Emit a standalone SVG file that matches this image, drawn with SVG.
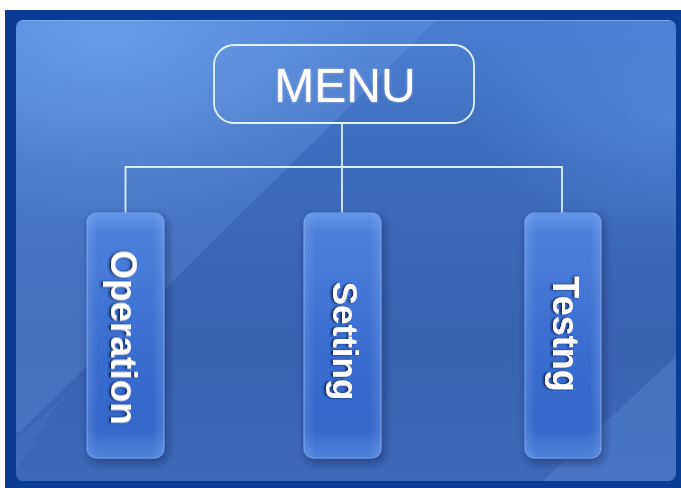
<svg xmlns="http://www.w3.org/2000/svg" width="681" height="488" viewBox="0 0 681 488">
<defs>
<linearGradient id="panelG" x1="0" y1="0" x2="0" y2="1">
<stop offset="0" stop-color="#4a7dd0"/>
<stop offset="0.3" stop-color="#3e6bbb"/>
<stop offset="0.7" stop-color="#3962ae"/>
<stop offset="1" stop-color="#3e68b6"/>
</linearGradient>
<radialGradient id="glowTL" cx="0.14" cy="0.04" r="0.4">
<stop offset="0" stop-color="#7fb0f5" stop-opacity="0.5"/>
<stop offset="1" stop-color="#7fb0f5" stop-opacity="0"/>
</radialGradient>
<radialGradient id="glowTR" cx="0.99" cy="0.2" r="0.3">
<stop offset="0" stop-color="#6c9ef0" stop-opacity="0.4"/>
<stop offset="1" stop-color="#6c9ef0" stop-opacity="0"/>
</radialGradient>
<linearGradient id="nodeG" x1="0" y1="0" x2="0" y2="1">
<stop offset="0" stop-color="#6294e6"/>
<stop offset="0.08" stop-color="#4d80dc"/>
<stop offset="0.5" stop-color="#3b6fd2"/>
<stop offset="0.88" stop-color="#3467cb"/>
<stop offset="1" stop-color="#4f84dc"/>
</linearGradient>
<linearGradient id="nodeH" x1="0" y1="0" x2="1" y2="0">
<stop offset="0" stop-color="#ffffff" stop-opacity="0.12"/>
<stop offset="0.15" stop-color="#ffffff" stop-opacity="0"/>
<stop offset="0.85" stop-color="#ffffff" stop-opacity="0"/>
<stop offset="1" stop-color="#ffffff" stop-opacity="0.12"/>
</linearGradient>
<filter id="boxShadow" x="-30%" y="-10%" width="160%" height="125%">
<feDropShadow dx="2" dy="4" stdDeviation="4" flood-color="#0c2457" flood-opacity="0.55"/>
</filter>
<filter id="txtShadow" x="-10%" y="-30%" width="120%" height="170%">
<feDropShadow dx="0" dy="2" stdDeviation="0.8" flood-color="#0a1f4f" flood-opacity="0.9"/>
</filter>
<filter id="menuGlow" x="-10%" y="-30%" width="120%" height="160%">
<feDropShadow dx="0" dy="0" stdDeviation="1.2" flood-color="#ffffff" flood-opacity="0.5"/>
</filter>
</defs>
<style>
.conn{fill:none;stroke:#d9efff;stroke-width:1.8}
.node{fill:url(#nodeG);stroke:#6f9be8;stroke-width:1;filter:url(#boxShadow)}
.nodeHi{fill:url(#nodeH);stroke:none}
.lbl{font-family:"Liberation Sans",Arial,sans-serif;font-weight:bold;fill:#ffffff;text-anchor:middle;filter:url(#txtShadow)}
.menuTxt{font-family:"Liberation Sans",Arial,sans-serif;font-size:48px;fill:#ffffff;text-anchor:middle;filter:url(#menuGlow)}
</style>

<!-- background -->
<rect x="0" y="0" width="681" height="488" fill="#ffffff"/>
<rect x="5" y="10" width="676" height="478" fill="#0b3b93"/>
<rect x="16" y="20" width="660" height="461" rx="7" fill="url(#panelG)"/>
<rect x="16" y="20" width="660" height="461" rx="7" fill="url(#glowTL)"/>
<rect x="16" y="20" width="660" height="461" rx="7" fill="url(#glowTR)"/>
<polygon points="23,20 437,20 20,432 16,432 16,27" fill="#8ab8ff" opacity="0.17"/>
<polygon points="676,356 676,474 669,481 543,481" fill="#8ab8ff" opacity="0.17"/>
<polygon points="16,440 60,400 16,470" fill="#8ab8ff" opacity="0.08"/>
<line x1="22" y1="20.5" x2="670" y2="20.5" stroke="#8db8f3" stroke-width="1" opacity="0.7"/>

<!-- connectors -->
<g id="connectors">
<line class="conn" x1="342" y1="123" x2="342" y2="213"/>
<polyline class="conn" points="125.5,213 125.5,167 562,167 562,213"/>
</g>

<!-- MENU -->
<g id="menu">
<rect x="214" y="45" width="260" height="78" rx="20" fill="#ffffff" fill-opacity="0.02" stroke="#e4f3ff" stroke-width="1.8"/>
<text class="menuTxt" x="345" y="102">MENU</text>
</g>

<!-- nodes -->
<g id="operation">
<rect class="node" x="87" y="213" width="77" height="245" rx="9"/>
<rect class="nodeHi" x="87" y="213" width="77" height="245" rx="9"/>
<text class="lbl" font-size="37" transform="translate(111,337.5) rotate(90)">Operation</text>
</g>
<g id="setting">
<rect class="node" x="304" y="213" width="77" height="245" rx="9"/>
<rect class="nodeHi" x="304" y="213" width="77" height="245" rx="9"/>
<text class="lbl" font-size="35" transform="translate(333,341) rotate(90)">Setting</text>
</g>
<g id="testng">
<rect class="node" x="525" y="213" width="76" height="245" rx="9"/>
<rect class="nodeHi" x="525" y="213" width="76" height="245" rx="9"/>
<text class="lbl" font-size="36" transform="translate(553,334) rotate(90)">Testng</text>
</g>
</svg>
